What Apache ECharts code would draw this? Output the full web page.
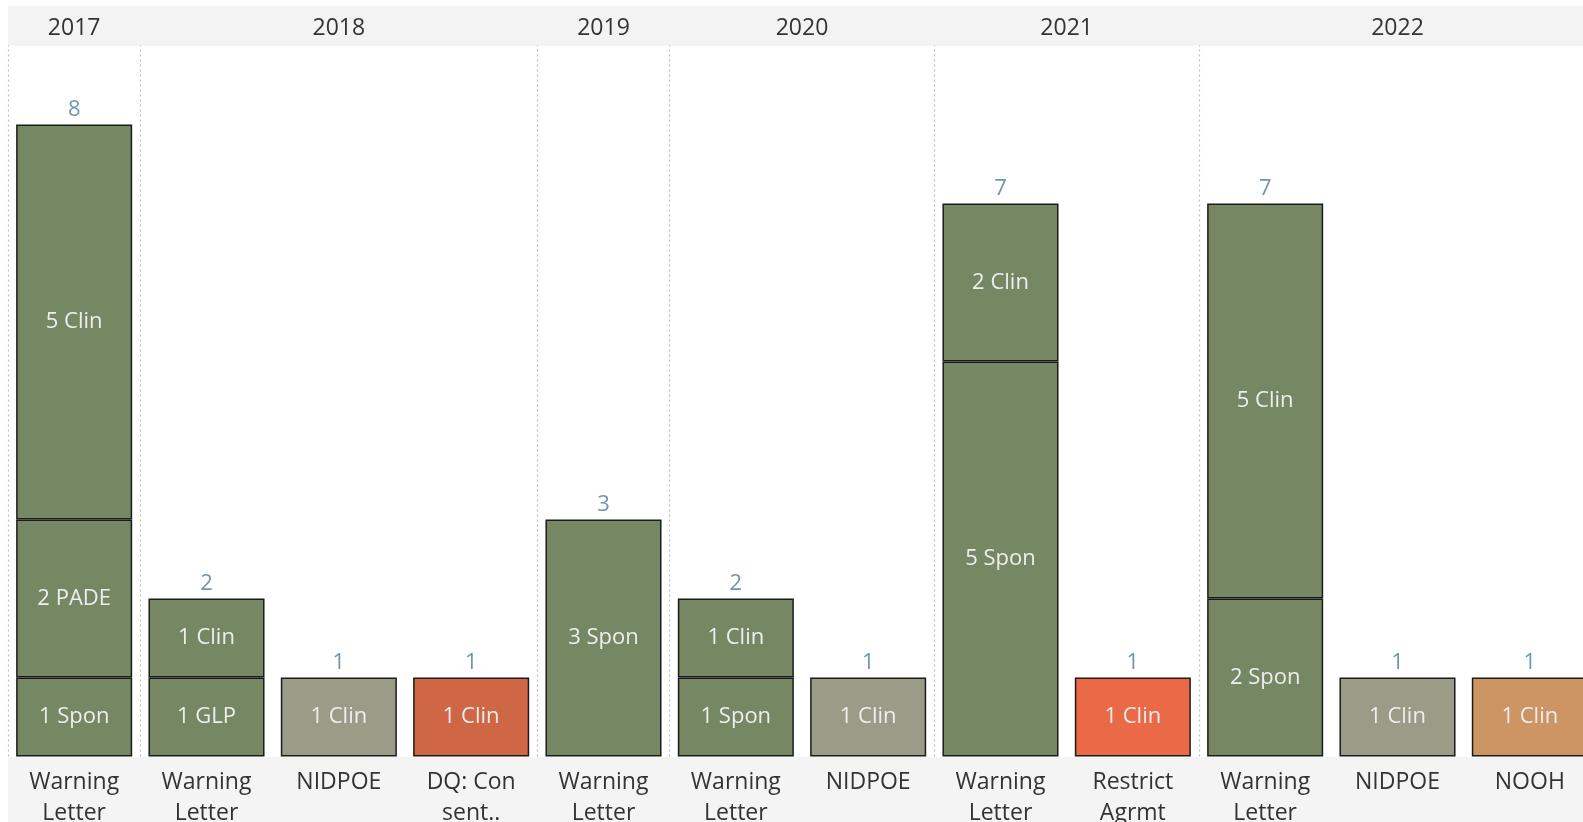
<!DOCTYPE html>
<html>
<head>
<meta charset="utf-8">
<title>Enforcement actions by year</title>
<script src="https://cdn.jsdelivr.net/npm/echarts@6/dist/echarts.min.js"></script>
<style>
    html, body { margin: 0; padding: 0; background: #ffffff; }
    #chart { width: 1583px; height: 822px; }
</style>
</head>
<body>
<div id="chart"></div>
<script>
// Columns (one per bar), left to right
const actionLabels = ['Warning\nLetter', 'Warning\nLetter', 'NIDPOE', 'DQ: Con\nsent..', 'Warning\nLetter', 'Warning\nLetter',
    'NIDPOE', 'Warning\nLetter', 'Restrict\nAgrmt', 'Warning\nLetter', 'NIDPOE', 'NOOH'];
const actionTypes = ['WL', 'WL', 'NIDPOE', 'DQ', 'WL', 'WL', 'NIDPOE', 'WL', 'Restrict', 'WL', 'NIDPOE', 'NOOH'];

// Year header: year and number of columns it spans
const years = ['2017', '2018', '2019', '2020', '2021', '2022'];
const yearSpans = [1, 3, 1, 2, 2, 3];

// Stacked segment counts (bottom to top)
const sponValues = [1, null, null, null, 3, 1, null, 5, null, 2, null, null];
const glpValues = [null, 1, null, null, null, null, null, null, null, null, null, null];
const padeValues = [2, null, null, null, null, null, null, null, null, null, null, null];
const clinValues = [5, 1, 1, 1, null, 1, 1, 2, 1, 5, 1, 1];

const typeColors = {
    WL: '#758763',
    NIDPOE: '#9b9c87',
    DQ: '#cf6744',
    Restrict: '#ea6946',
    NOOH: '#cc9563'
};

const segments = [
    { name: 'Spon', data: sponValues },
    { name: 'GLP', data: glpValues },
    { name: 'PADE', data: padeValues },
    { name: 'Clin', data: clinValues }
];

const totals = actionLabels.map((_, i) =>
    segments.reduce((sum, s) => sum + (s.data[i] || 0), 0));

// year boundaries and header label positions on the 0..12 top axis
const yearBounds = [0];
yearSpans.forEach(s => yearBounds.push(yearBounds[yearBounds.length - 1] + s));
const yearCenters = {};
years.forEach((y, i) => { yearCenters[(yearBounds[i] + yearBounds[i + 1]) / 2] = y; });

const chart = echarts.init(document.getElementById('chart'));

const barSeries = segments.map(seg => ({
    name: seg.name,
    type: 'bar',
    stack: 'count',
    data: seg.data,
    barCategoryGap: '12.3%',
    itemStyle: {
        color: p => typeColors[actionTypes[p.dataIndex]],
        borderColor: '#1b1b1b',
        borderWidth: 1.5
    },
    label: {
        show: true,
        position: 'inside',
        formatter: p => p.value + ' ' + seg.name,
        color: '#eeeeee',
        fontFamily: 'Open Sans',
        fontSize: 22
    },
    emphasis: { disabled: true }
}));

const option = {
    animation: false,
    graphic: [
        { type: 'rect', left: 8, top: 6, z: -10, shape: { width: 1600, height: 40 }, style: { fill: '#f3f3f3' } },
        { type: 'rect', left: 8, top: 757, z: -10, shape: { width: 1600, height: 70 }, style: { fill: '#f4f4f4' } }
    ],
    grid: {
        left: 8,
        top: 45.5,
        width: 1588,
        bottom: 65.5,
        outerBoundsMode: 'none'
    },
    xAxis: [
        {
            type: 'category',
            data: actionLabels,
            axisLine: { show: false },
            axisTick: { show: false },
            axisLabel: {
                interval: 0,
                margin: 10,
                color: '#333333',
                fontFamily: 'Open Sans',
                fontSize: 23,
                lineHeight: 31,
                verticalAlign: 'top'
            }
        },
        {
            type: 'value',
            position: 'top',
            min: 0,
            max: 12,
            interval: 0.5,
            axisLine: { show: false },
            axisTick: { show: false },
            splitLine: { show: false },
            axisLabel: {
                margin: 6,
                color: '#333333',
                fontFamily: 'Open Sans',
                fontSize: 23,
                lineHeight: 22,
                formatter: v => yearCenters[v] || ''
            }
        }
    ],
    yAxis: {
        type: 'value',
        min: 0,
        max: 9,
        show: false
    },
    series: [
        {
            name: 'separators',
            type: 'line',
            xAxisIndex: 1,
            data: [],
            silent: true,
            markLine: {
                silent: true,
                symbol: 'none',
                label: { show: false },
                lineStyle: { type: [2, 3], color: '#bdbdbd', width: 1.2 },
                data: yearBounds.slice(0, -1).map(b => ({ xAxis: b }))
            }
        },
        ...barSeries,
        {
            name: 'Total',
            type: 'scatter',
            data: totals,
            symbolSize: 0,
            silent: true,
            label: {
                show: true,
                position: 'top',
                distance: 4,
                color: '#4e7b98',
                fontFamily: 'Open Sans',
                fontSize: 22,
                lineHeight: 22
            }
        }
    ]
};

chart.setOption(option);
</script>
</body>
</html>
